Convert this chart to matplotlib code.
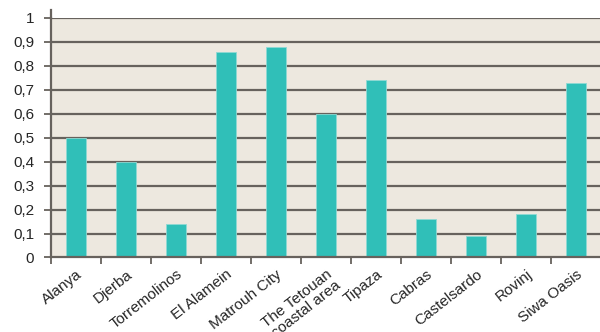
import matplotlib.pyplot as plt
import numpy as np

# data
places = ['Alanya', 'Djerba', 'Torremolinos', 'El Alamein', 'Matrouh City',
          'The Tetouan\ncoastal area', 'Tipaza', 'Cabras', 'Castelsardo',
          'Rovinj', 'Siwa Oasis']
values = [0.50, 0.40, 0.14, 0.86, 0.88, 0.60, 0.74, 0.16, 0.09, 0.18, 0.73]
yticks = [0, 0.1, 0.2, 0.3, 0.4, 0.5, 0.6, 0.7, 0.8, 0.9, 1.0]
ytick_labels = ['0', '0,1', '0,2', '0,3', '0,4', '0,5', '0,6', '0,7', '0,8', '0,9', '1']

plt.rcParams['font.family'] = ['Liberation Sans', 'DejaVu Sans']

grid_col = '#67625d'
text_col = '#262626'

fig = plt.figure(figsize=(6, 3.32), dpi=100)
ax = fig.add_axes([0.085, 0.2244, 0.917, 0.7214])
ax.set_facecolor('#ede8df')

x = np.arange(len(places))
ax.bar(x, values, width=0.4, color='#30bfb8', edgecolor='#8fd9d4',
       linewidth=0.6, zorder=3)

ax.set_xlim(-0.5, len(places) - 0.5)
ax.set_ylim(0, 1)

for y in yticks[1:]:
    ax.axhline(y, color=grid_col, linewidth=1.6, zorder=1)

ax.set_yticks(yticks)
ax.set_yticklabels(ytick_labels, fontsize=11, color=text_col)
ax.tick_params(axis='y', length=5, width=1.3, color=grid_col, pad=7)

ax.set_xticks(x)
ax.set_xticklabels(places, rotation=38, ha='right', va='top',
                   rotation_mode='anchor', fontsize=11, color=text_col,
                   linespacing=0.95)
ax.tick_params(axis='x', which='major', length=0, pad=7)
ax.set_xticks(np.arange(len(places)) - 0.5, minor=True)
ax.tick_params(axis='x', which='minor', length=5, width=1.3, color=grid_col)

for side in ['top', 'right']:
    ax.spines[side].set_visible(False)
for side in ['left', 'bottom']:
    ax.spines[side].set_color(grid_col)
    ax.spines[side].set_linewidth(1.6)
    ax.spines[side].set_zorder(4)

# axis line runs a little above the top value
ax.plot([-0.5, -0.5], [1.0, 1.035], color=grid_col, linewidth=1.6,
        clip_on=False, zorder=4)

fig.savefig('out.png', dpi=100)
